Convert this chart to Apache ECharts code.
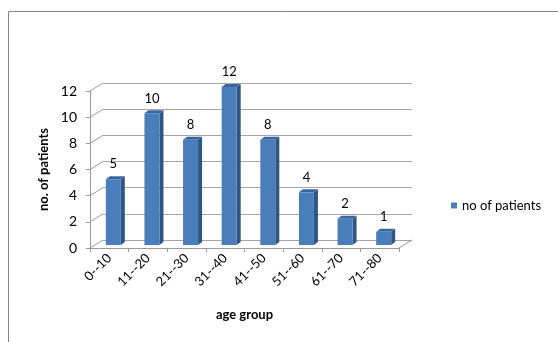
<!DOCTYPE html>
<html>
<head>
<meta charset="utf-8">
<script src="https://cdn.jsdelivr.net/npm/echarts@6/dist/echarts.min.js"></script>
<style>
  html, body { margin: 0; padding: 0; background: #fff; }
  #chart { width: 558px; height: 342px; }
</style>
</head>
<body>
<div id="chart"></div>
<script>
// data
var ageGroups = ['0--10', '11--20', '21--30', '31--40', '41--50', '51--60', '61--70', '71--80']
var patientCounts = [5, 10, 8, 12, 8, 4, 2, 1]
var yTicks = [0, 2, 4, 6, 8, 10, 12]
var seriesName = 'no of patients'

var FONT = 'Lato'
var DEPTH_X = 13 // back wall offset (px)
var DEPTH_Y = 8

var myChart = echarts.init(document.getElementById('chart'))

// bars drawn as small 3D columns
function renderBar (params, api) {
  var top = api.coord([api.value(0), api.value(1)])
  var base = api.coord([api.value(0), 0])
  var w = 15
  var dx = 4
  var dy = 3
  var x0 = top[0] - 7.5
  var x1 = x0 + w
  return {
    type: 'group',
    children: [
      {
        type: 'polygon',
        shape: { points: [[x1, top[1]], [x1 + dx, top[1] - dy], [x1 + dx, base[1] - dy], [x1, base[1]]] },
        style: { fill: '#2f5585' }
      },
      {
        type: 'polygon',
        shape: { points: [[x0, top[1]], [x0 + dx, top[1] - dy], [x1 + dx, top[1] - dy], [x1, top[1]]] },
        style: { fill: '#3a66a0' }
      },
      {
        type: 'rect',
        shape: { x: x0, y: top[1], width: w, height: base[1] - top[1] },
        style: { fill: '#4a7ebb' }
      },
      {
        type: 'text',
        x: x0 + w / 2,
        y: top[1] - 15,
        style: {
          text: String(api.value(1)),
          fill: '#000',
          font: '13px ' + FONT,
          align: 'center',
          verticalAlign: 'middle'
        }
      }
    ]
  }
}

// diagonal lines of the left wall and floor
function renderWall (params, api) {
  var p = api.coord([api.value(0), api.value(1)])
  return {
    type: 'line',
    shape: { x1: p[0], y1: p[1], x2: p[0] - DEPTH_X, y2: p[1] + DEPTH_Y },
    style: { stroke: '#9a9a9a', lineWidth: 1 }
  }
}

var wallData = yTicks.map(function (v) { return [0, v] })
wallData.push([1, 0])

myChart.setOption({
  animation: false,
  textStyle: { fontFamily: FONT },
  graphic: [
    {
      type: 'rect',
      shape: { x: 8.5, y: 11.5, width: 700, height: 500 },
      style: { fill: null, stroke: '#888', lineWidth: 1 },
      silent: true
    }
  ],
  legend: {
    data: [seriesName],
    left: 446,
    top: 194,
    icon: 'rect',
    itemWidth: 6,
    itemHeight: 6,
    textStyle: { fontFamily: FONT, fontSize: 13, color: '#000' }
  },
  grid: [
    { left: 90, top: 91, width: 309, height: 157 }, // front axes
    { left: 90 + DEPTH_X, top: 91 - DEPTH_Y, width: 309, height: 157 }, // back wall
    { left: 94, top: 87, width: 309, height: 158 } // bars
  ],
  xAxis: [
    {
      gridIndex: 0,
      type: 'category',
      data: ageGroups,
      name: 'age group',
      nameLocation: 'middle',
      nameGap: 60,
      nameTextStyle: { fontFamily: FONT, fontWeight: 'bold', fontSize: 13, color: '#000' },
      axisLine: { lineStyle: { color: '#9a9a9a' } },
      axisTick: { show: true, interval: 0, length: 4, lineStyle: { color: '#9a9a9a' } },
      axisLabel: { rotate: 45, interval: 0, margin: 8, fontFamily: FONT, fontSize: 13, color: '#000' },
      splitLine: { show: false }
    },
    { gridIndex: 1, type: 'value', min: 0, max: 1, show: false },
    { gridIndex: 2, type: 'category', data: ageGroups, show: false }
  ],
  yAxis: [
    {
      gridIndex: 0,
      type: 'value',
      min: 0,
      max: 12,
      interval: 2,
      name: 'no. of patients',
      nameLocation: 'middle',
      nameGap: 37,
      nameTextStyle: { fontFamily: FONT, fontWeight: 'bold', fontSize: 13, color: '#000' },
      axisLine: { show: true, lineStyle: { color: '#9a9a9a' } },
      axisTick: { show: true, length: 4, lineStyle: { color: '#9a9a9a' } },
      axisLabel: { margin: 13, fontFamily: FONT, fontSize: 14, color: '#000' },
      splitLine: { show: false }
    },
    {
      gridIndex: 1,
      type: 'value',
      min: 0,
      max: 12,
      interval: 2,
      axisLine: { show: false },
      axisTick: { show: false },
      axisLabel: { show: false },
      splitLine: { show: true, lineStyle: { color: '#a6a6a6', width: 1 } }
    },
    { gridIndex: 2, type: 'value', min: 0, max: 12, show: false }
  ],
  series: [
    {
      type: 'custom',
      xAxisIndex: 1,
      yAxisIndex: 1,
      silent: true,
      renderItem: renderWall,
      data: wallData,
      encode: { x: 0, y: 1 },
      z: 1
    },
    {
      name: seriesName,
      type: 'custom',
      xAxisIndex: 2,
      yAxisIndex: 2,
      itemStyle: { color: '#4a7ebb' },
      renderItem: renderBar,
      data: patientCounts.map(function (v, i) { return [i, v] }),
      encode: { x: 0, y: 1 },
      z: 3
    }
  ]
})
</script>
</body>
</html>
